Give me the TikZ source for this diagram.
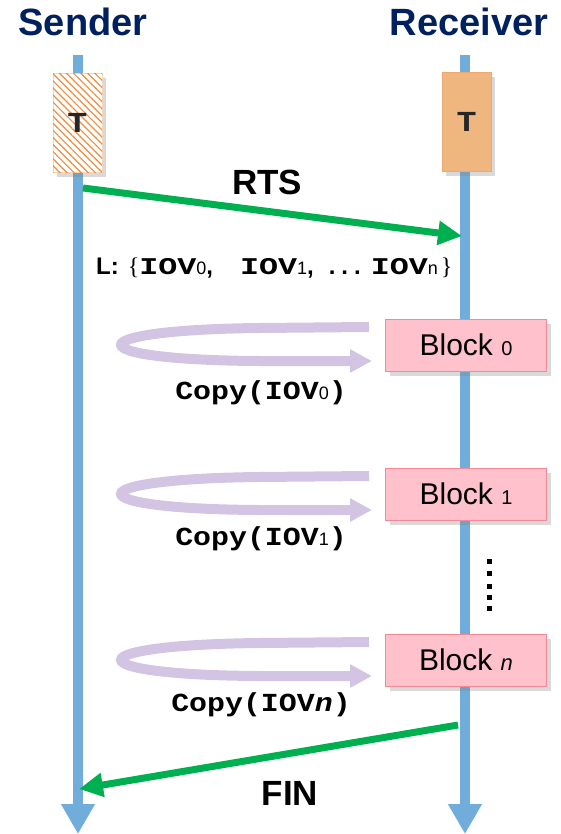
\documentclass[tikz,border=0pt]{standalone}
\usepackage{fontspec}
\setmainfont{Liberation Sans}
\newfontfamily\monofont[FakeStretch=1.15]{Liberation Mono}
\newfontfamily\monowide[FakeStretch=1.32]{Liberation Mono}
\newfontfamily\seriffont{Liberation Serif}
\usetikzlibrary{arrows.meta,shadows,patterns.meta}

\definecolor{lifeblue}{RGB}{112,173,218}
\definecolor{titlenavy}{RGB}{0,32,96}
\definecolor{msggreen}{RGB}{0,176,80}
\definecolor{tokenorange}{RGB}{240,182,127}
\definecolor{tokenedge}{RGB}{238,170,110}
\definecolor{hatchedge}{RGB}{248,214,184}
\definecolor{hatchorange}{RGB}{240,140,60}
\definecolor{blockpink}{RGB}{255,194,205}
\definecolor{blockedge}{RGB}{244,136,150}
\definecolor{looplilac}{RGB}{210,196,226}

% bold mono IOV name followed by a small sans index
\newcommand{\iovname}[2]{{\fontsize{#1}{#1}\selectfont\monofont\bfseries IOV}#2}
\newcommand{\iovlist}[1]{{\fontsize{24}{24}\selectfont\monowide\bfseries IOV}#1}
\newcommand{\idx}[1]{{\fontsize{18}{18}\selectfont\rmfamily\mdseries #1}}
\newcommand{\listsans}{\fontsize{24}{25}\selectfont\rmfamily\bfseries}
\newcommand{\bracefont}{\fontsize{24}{24}\selectfont\seriffont\mdseries}

\tikzset{
  lifeline/.style={draw=lifeblue, line width=10pt,
    -{Triangle[width=32pt,length=30pt]}},
  title/.style={font=\fontsize{38}{40}\selectfont\bfseries, text=titlenavy},
  tokenbox/.style={line width=1pt, minimum width=49pt,
    minimum height=99pt, inner sep=0pt,
    font=\fontsize{29}{29}\selectfont\monofont\bfseries, text=black!85,
    drop shadow={shadow xshift=4pt, shadow yshift=-5pt, opacity=0.3}},
  msg/.style={draw=msggreen, line width=7pt,
    -{Triangle[width=23pt,length=24pt]}},
  msglabel/.style={font=\fontsize{35}{36}\selectfont\bfseries},
  blockbox/.style={draw=blockedge, fill=blockpink, line width=1pt,
    minimum width=161pt, minimum height=52pt, inner sep=0pt,
    font=\fontsize{30}{31}\selectfont,
    drop shadow={shadow xshift=4pt, shadow yshift=-5pt, opacity=0.3}},
  copyloop/.style={draw=looplilac, line width=10pt,
    -{Triangle[width=22pt,length=22pt]}},
  copylabel/.style={font=\fontsize{26}{27}\selectfont\monofont\bfseries},
}

\begin{document}
\begin{tikzpicture}[x=1pt,y=-1pt]
\useasboundingbox (0,0) rectangle (561,834);

% participants
\node[title] (sender) at (83,22) {Sender};
\node[title] (receiver) at (469,22) {Receiver};

% lifelines
\coordinate (stop) at (78,55);
\coordinate (sbot) at (78,834);
\coordinate (rtop) at (465,55);
\coordinate (rbot) at (465,834);
\draw[lifeline] (stop) -- (sbot);
\draw[lifeline] (rtop) -- (rbot);

% tokens
\node[tokenbox, draw=hatchedge, fill=white,
  postaction={pattern={Lines[angle=-45,distance=5pt,line width=1.2pt]},
              pattern color=hatchorange}] (stok) at (77.5,123) {};
\node[font=\fontsize{29}{29}\selectfont\monofont\bfseries, text=black!85,
  inner sep=0pt] (stokT) at (stok.center) {T};
\node[tokenbox, draw=tokenedge, fill=tokenorange] (rtok) at (466.5,122) {T};

% RTS
\coordinate (rtsfrom) at (83,188);
\coordinate (rtsto) at (462,236);
\draw[msg] (rtsfrom) -- (rtsto);
\node[msglabel] (rts) at (267,182) {RTS};

% IOV list
\node[anchor=west, inner sep=0pt] (list) at (96,268)
  {{\listsans L:}\hspace{9pt}{\bracefont\{}%
   \iovlist{\idx{0}}{\listsans,}\hspace{27pt}%
   \iovlist{\idx{1}}{\listsans,}\hspace{15pt}%
   {\listsans.\hspace{6pt}.\hspace{6pt}.}\hspace{10pt}%
   \iovlist{\idx{n}}\hspace{3pt}{\bracefont\}}};

% blocks
\node[blockbox] (b0) at (466,345) {Block {\fontsize{20}{20}\selectfont 0}};
\node[blockbox] (b1) at (466,494) {Block {\fontsize{20}{20}\selectfont 1}};
\node[blockbox] (bn) at (466,660) {Block {\fontsize{22}{22}\selectfont\itshape n}};

% copy loops
\foreach \blk in {b0,b1,bn}{
  \begin{scope}[shift={(\blk.west)}]
    \draw[copyloop] (-16,-18) -- (-126,-17)
      .. controls (-310,-15) and (-310,15) .. (-126,16) -- (-13,16);
  \end{scope}
}
\node[copylabel] (c0) at (261,393) {Copy(\iovname{26}{\idx{0}})};
\node[copylabel] (c1) at (261,539) {Copy(\iovname{26}{\idx{1}})};
\node[copylabel] (cn) at (261,705) {Copy(\iovname{26}{{\itshape n}})};

% vertical ellipsis
\foreach \yy in {561,573,586,597,608}
  \fill (486.5,\yy-2.5) rectangle ++(5,5);

% FIN
\coordinate (finfrom) at (458,725);
\coordinate (finto) at (79,789);
\draw[msg] (finfrom) -- (finto);
\node[msglabel] (fin) at (290,793) {FIN};
\end{tikzpicture}
\end{document}
